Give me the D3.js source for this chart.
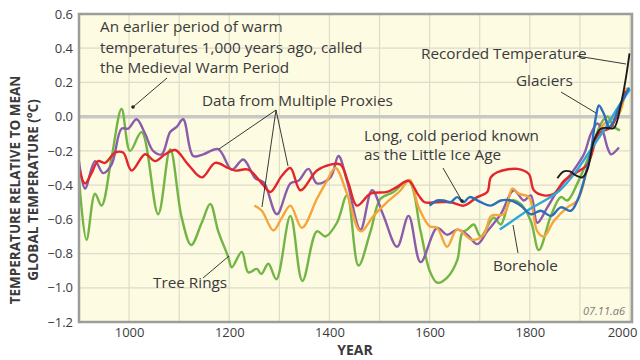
<!DOCTYPE html>
<html>
<head>
<meta charset="utf-8">
<script src="https://cdn.jsdelivr.net/npm/d3@7"></script>
<style>
  body { margin: 0; background: #fff; }
  svg { display: block; font-family: 'Open Sans', sans-serif; }
</style>
</head>
<body>
<svg id="chart" width="640" height="360"></svg>
<script>
// proxy reconstructions, [year, °C anomaly]
const treeRings = [[900,-0.36],[915,-0.72],[932,-0.45],[945,-0.52],[965,-0.24],[985,0.045],[1002,-0.2],[1025,-0.09],[1058,-0.57],[1082,-0.19],[1105,-0.59],[1124,-0.75],[1145,-0.62],[1162,-0.51],[1178,-0.67],[1198,-0.82],[1205,-0.88],[1225,-0.79],[1238,-0.91],[1255,-0.89],[1264,-0.92],[1278,-0.86],[1294,-0.95],[1322,-0.58],[1346,-0.96],[1375,-0.67],[1392,-0.70],[1415,-0.62],[1435,-0.46],[1458,-0.87],[1482,-0.67],[1502,-0.48],[1528,-0.44],[1558,-0.375],[1582,-0.67],[1600,-0.90],[1615,-0.97],[1635,-0.94],[1655,-0.84],[1665,-0.68],[1675,-0.66],[1688,-0.63],[1702,-0.70],[1728,-0.59],[1742,-0.63],[1762,-0.49],[1782,-0.51],[1802,-0.61],[1818,-0.78],[1842,-0.58],[1862,-0.47],[1875,-0.49],[1895,-0.39],[1922,-0.20],[1942,-0.04],[1955,0.0],[1968,-0.06],[1980,-0.08]]
const proxyPurple = [[900,-0.26],[912,-0.42],[932,-0.26],[948,-0.33],[965,-0.28],[985,-0.07],[998,-0.07],[1015,-0.015],[1032,-0.10],[1048,-0.20],[1065,-0.22],[1082,-0.09],[1095,-0.06],[1108,-0.015],[1128,-0.23],[1148,-0.22],[1178,-0.19],[1205,-0.31],[1228,-0.25],[1252,-0.36],[1269,-0.385],[1295,-0.57],[1322,-0.39],[1338,-0.375],[1358,-0.305],[1375,-0.39],[1402,-0.355],[1418,-0.23],[1435,-0.375],[1462,-0.66],[1485,-0.43],[1508,-0.58],[1535,-0.76],[1558,-0.58],[1582,-0.85],[1615,-0.65],[1635,-0.69],[1655,-0.66],[1675,-0.69],[1695,-0.745],[1715,-0.67],[1742,-0.57],[1768,-0.43],[1788,-0.49],[1802,-0.46],[1815,-0.62],[1835,-0.53],[1858,-0.42],[1882,-0.335],[1908,-0.22],[1922,-0.10],[1935,-0.04],[1945,-0.08],[1955,-0.18],[1962,-0.22],[1978,-0.18]]
const proxyRed = [[900,-0.30],[912,-0.39],[925,-0.33],[938,-0.26],[952,-0.27],[972,-0.21],[988,-0.21],[1005,-0.315],[1032,-0.22],[1052,-0.26],[1072,-0.22],[1092,-0.195],[1118,-0.28],[1145,-0.355],[1172,-0.27],[1198,-0.30],[1212,-0.315],[1238,-0.31],[1268,-0.40],[1282,-0.44],[1305,-0.345],[1322,-0.30],[1342,-0.43],[1375,-0.315],[1402,-0.28],[1422,-0.28],[1438,-0.39],[1455,-0.52],[1482,-0.45],[1515,-0.44],[1535,-0.41],[1558,-0.375],[1578,-0.46],[1590,-0.50],[1615,-0.50],[1642,-0.50],[1668,-0.52],[1695,-0.47],[1715,-0.44],[1722,-0.355],[1735,-0.325],[1775,-0.305],[1798,-0.335],[1808,-0.43],[1828,-0.46],[1848,-0.45],[1868,-0.375],[1888,-0.335],[1915,-0.28],[1938,-0.10],[1962,-0.06],[1990,0.15]]
const proxyOrange = [[1250,-0.52],[1265,-0.55],[1288,-0.665],[1305,-0.59],[1322,-0.52],[1345,-0.65],[1375,-0.48],[1395,-0.375],[1412,-0.30],[1435,-0.45],[1462,-0.67],[1488,-0.58],[1515,-0.50],[1542,-0.43],[1560,-0.37],[1578,-0.53],[1600,-0.64],[1615,-0.65],[1635,-0.76],[1655,-0.66],[1685,-0.72],[1708,-0.69],[1723,-0.58],[1748,-0.57],[1765,-0.42],[1778,-0.45],[1798,-0.47],[1815,-0.67],[1828,-0.70],[1848,-0.61],[1875,-0.53],[1895,-0.49],[1915,-0.30],[1935,-0.10],[1955,-0.025],[1975,0.0],[1992,0.17]]
const glaciers = [[1600,-0.52],[1615,-0.49],[1628,-0.49],[1642,-0.50],[1655,-0.47],[1668,-0.50],[1680,-0.47],[1702,-0.50],[1722,-0.52],[1742,-0.49],[1762,-0.49],[1782,-0.52],[1802,-0.57],[1822,-0.55],[1842,-0.58],[1862,-0.53],[1882,-0.55],[1895,-0.49],[1908,-0.375],[1922,-0.20],[1932,0.0],[1938,0.065],[1948,0.015],[1958,-0.06],[1965,-0.04],[1978,0.055],[1988,0.11],[1998,0.17]]
const borehole = [[1740,-0.66],[1770,-0.60],[1800,-0.54],[1830,-0.49],[1860,-0.43],[1890,-0.33],[1920,-0.20],[1950,-0.07],[1975,0.05],[2000,0.16]]
const recorded = [[1855,-0.36],[1868,-0.32],[1880,-0.32],[1893,-0.345],[1905,-0.355],[1915,-0.31],[1928,-0.14],[1942,-0.07],[1955,-0.066],[1968,-0.066],[1982,0.075],[1992,0.23],[1999,0.37]]

const yearTicks = [1000, 1200, 1400, 1600, 1800, 2000]
const tempTicks = [0.6, 0.4, 0.2, 0.0, -0.2, -0.4, -0.6, -0.8, -1.0, -1.2]

const svg = d3.select('#chart')
const plotLeft = 79
const plotRight = 632
const plotTop = 14
const plotBottom = 322

const x = d3.scaleLinear().domain([900, 2004]).range([plotLeft, plotRight])
const y = d3.scaleLinear().domain([-1.2, 0.6]).range([plotBottom, plotTop])

svg.append('rect')
  .attr('x', plotLeft).attr('y', plotTop)
  .attr('width', plotRight - plotLeft).attr('height', plotBottom - plotTop)
  .attr('fill', '#fdfbe2')

// grid
svg.append('g')
  .selectAll('line')
  .data(d3.range(1000, 2001, 100))
  .join('line')
  .attr('x1', d => x(d)).attr('x2', d => x(d))
  .attr('y1', plotTop).attr('y2', plotBottom)
  .attr('stroke', '#dedcca').attr('stroke-width', 1.2)

svg.append('g')
  .selectAll('line')
  .data(tempTicks.filter(d => d !== 0))
  .join('line')
  .attr('x1', plotLeft).attr('x2', plotRight)
  .attr('y1', d => y(d)).attr('y2', d => y(d))
  .attr('stroke', '#dedcca').attr('stroke-width', 1.2)

svg.append('line')
  .attr('x1', plotLeft).attr('x2', plotRight)
  .attr('y1', y(0)).attr('y2', y(0))
  .attr('stroke', '#c9c9c4').attr('stroke-width', 3.5)

// axes, labels only
const yAxis = svg.append('g')
  .attr('transform', `translate(${plotLeft},0)`)
  .call(d3.axisLeft(y).tickValues(tempTicks).tickSize(0).tickPadding(6).tickFormat(d3.format('.1f')))
yAxis.select('.domain').remove()
yAxis.selectAll('text').attr('font-size', 13).attr('fill', '#3c3c3c').attr('font-family', 'Open Sans')

const xAxis = svg.append('g')
  .attr('transform', `translate(0,${plotBottom})`)
  .call(d3.axisBottom(x).tickValues(yearTicks).tickSize(0).tickPadding(6).tickFormat(d3.format('d')))
xAxis.select('.domain').remove()
xAxis.selectAll('text').attr('font-size', 13).attr('fill', '#3c3c3c').attr('font-family', 'Open Sans')
// last year label sits pulled in from the frame edge
xAxis.selectAll('text').filter(d => d === 2000).attr('dx', -8)

// series
const line = d3.line()
  .x(d => x(d[0]))
  .y(d => y(d[1]))
  .curve(d3.curveCatmullRom.alpha(0.5))

const series = [
  { data: treeRings, color: '#72b545', w: 2.4 },
  { data: proxyPurple, color: '#8b5cab', w: 2.4 },
  { data: proxyOrange, color: '#f5a53c', w: 2.4 },
  { data: proxyRed, color: '#e3262b', w: 2.4 },
  { data: borehole, color: '#2fa7da', w: 2.4 },
  { data: glaciers, color: '#2b6fbc', w: 2.4 },
  { data: recorded, color: '#1c1c1c', w: 1.9 }
]

svg.append('g')
  .selectAll('path')
  .data(series)
  .join('path')
  .attr('d', d => line(d.data))
  .attr('fill', 'none')
  .attr('stroke', d => d.color)
  .attr('stroke-width', d => d.w)
  .attr('stroke-linejoin', 'round')

// frame
svg.append('rect')
  .attr('x', plotLeft).attr('y', plotTop)
  .attr('width', plotRight - plotLeft).attr('height', plotBottom - plotTop)
  .attr('fill', 'none')
  .attr('stroke', '#9d9d9a').attr('stroke-width', 2.5)

// annotations
const ink = '#3a3a3a'
const note = (tx, ty, s) => svg.append('text')
  .attr('x', tx).attr('y', ty)
  .attr('font-size', 15.3).attr('fill', ink)
  .text(s)

note(100, 32, 'An earlier period of warm')
note(100, 53, 'temperatures 1,000 years ago, called')
note(100, 73, 'the Medieval Warm Period')
note(202, 106, 'Data from Multiple Proxies')
note(421, 59, 'Recorded Temperature')
note(516, 86, 'Glaciers')
note(364, 141, 'Long, cold period known')
note(364, 160, 'as the Little Ice Age')
note(153, 288, 'Tree Rings')
note(493, 271, 'Borehole')

const leaders = [
  [[167, 78], [133, 107]],
  [[276, 110], [219, 149]],
  [[276, 110], [262, 207]],
  [[276, 110], [288, 166]],
  [[577, 56], [626, 64]],
  [[561, 92], [596, 113]],
  [[443, 168], [462, 201]],
  [[203, 278], [229, 256]],
  [[518, 253], [513, 225]]
]

svg.append('g')
  .selectAll('line')
  .data(leaders)
  .join('line')
  .attr('x1', d => d[0][0]).attr('y1', d => d[0][1])
  .attr('x2', d => d[1][0]).attr('y2', d => d[1][1])
  .attr('stroke', '#222').attr('stroke-width', 0.9)

svg.append('g')
  .selectAll('circle')
  .data([[133, 107], [462, 201]])
  .join('circle')
  .attr('cx', d => d[0]).attr('cy', d => d[1]).attr('r', 1.8)
  .attr('fill', '#222')

svg.append('text')
  .attr('x', 625).attr('y', 315)
  .attr('text-anchor', 'end')
  .attr('font-size', 11).attr('font-style', 'italic')
  .attr('fill', '#7a7a7a')
  .text('07.11.a6')

// axis titles
svg.append('text')
  .attr('x', 355).attr('y', 355)
  .attr('text-anchor', 'middle')
  .attr('font-size', 14).attr('font-weight', 'bold').attr('fill', ink)
  .text('YEAR')

const yTitle = svg.append('text')
  .attr('transform', 'translate(20,190) rotate(-90)')
  .attr('text-anchor', 'middle')
  .attr('font-size', 13.5).attr('font-weight', 'bold').attr('fill', ink)
yTitle.append('tspan').attr('x', 0).attr('dy', 0).text('TEMPERATURE RELATIVE TO MEAN')
yTitle.append('tspan').attr('x', 0).attr('dy', 18).text('GLOBAL TEMPERATURE (°C)')
</script>
</body>
</html>
